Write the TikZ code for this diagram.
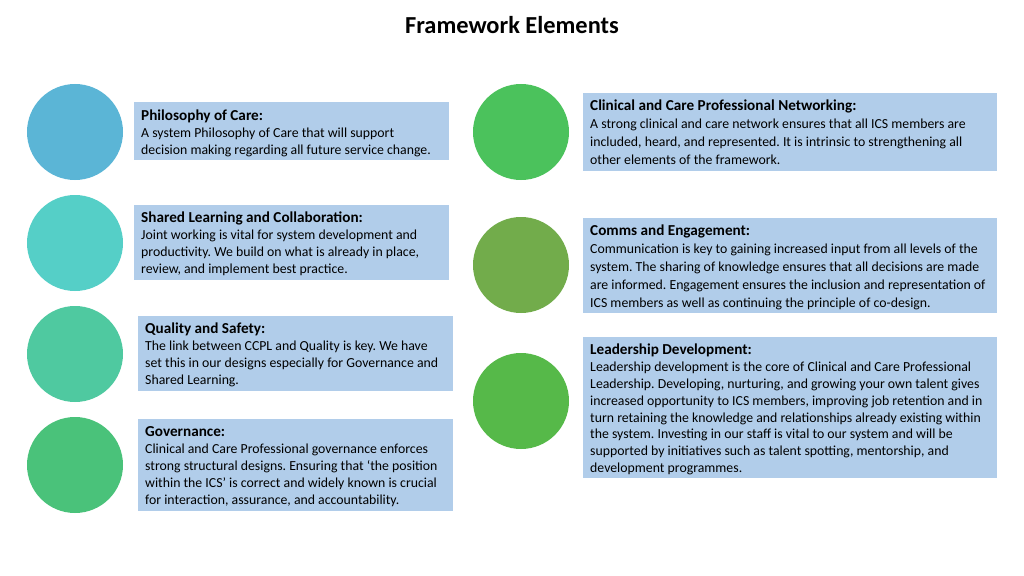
\documentclass[tikz,border=0pt]{standalone}
\usepackage{fontspec}
\setmainfont{Carlito}
\newcommand{\hd}[1]{{\fontsize{15.2}{17}\selectfont\bfseries #1}}
\begin{document}
\frenchspacing
\begin{tikzpicture}[x=1pt,y=-1pt,
 box/.style={fill=boxc,draw=none},
 circ/.style={circle,minimum size=96pt,inner sep=0pt,draw=none},
 txt/.style={anchor=north west,align=left,inner sep=0pt,font=\fontsize{13.8}{17}\selectfont}]
\definecolor{boxc}{HTML}{B1CDEA}
\useasboundingbox (0,0) rectangle (1024,575);
\node[font=\fontsize{24.4}{28}\selectfont\bfseries] (title) at (512,25) {Framework Elements};
\node[circ,fill={rgb,255:red,91;green,181;blue,214}] (c1) at (75,132) {};
\node[circ,fill={rgb,255:red,85;green,207;blue,199}] (c2) at (75,243) {};
\node[circ,fill={rgb,255:red,79;green,201;blue,160}] (c3) at (75,354) {};
\node[circ,fill={rgb,255:red,74;green,194;blue,122}] (c4) at (75,465) {};
\node[circ,fill={rgb,255:red,75;green,194;blue,92}] (c5) at (521,132) {};
\node[circ,fill={rgb,255:red,114;green,172;blue,75}] (c6) at (521,265) {};
\node[circ,fill={rgb,255:red,86;green,185;blue,73}] (c7) at (521,401) {};
\fill[box] (134,102) rectangle (449,160);
\fill[box] (134,205) rectangle (449,280);
\fill[box] (138,316) rectangle (453,391);
\fill[box] (138,419) rectangle (453,511);
\fill[box] (583,93) rectangle (997,171);
\fill[box] (583,218) rectangle (997,313);
\fill[box] (583,337) rectangle (997,478);
\node[txt] (t1) at (141,110) {\hd{Philosophy of Care:}\\A system Philosophy of Care that will support\\decision making regarding all future service change.};
\node[txt] (t2) at (141,212) {\hd{Shared Learning and Collaboration:}\\Joint working is vital for system development and\\productivity. We build on what is already in place,\\review, and implement best practice.};
\node[txt] (t3) at (145,323) {\hd{Quality and Safety:}\\The link between CCPL and Quality is key. We have\\set this in our designs especially for Governance and\\Shared Learning.};
\node[txt] (t4) at (145,426) {\hd{Governance:}\\Clinical and Care Professional governance enforces\\strong structural designs. Ensuring that ‘the position\\within the ICS’ is correct and widely known is crucial\\for interaction, assurance, and accountability.};
\node[txt,font=\fontsize{13.8}{17.8}\selectfont] (t5) at (590,100) {\hd{Clinical and Care Professional Networking:}\\A strong clinical and care network ensures that all ICS members are\\included, heard, and represented. It is intrinsic to strengthening all\\other elements of the framework.};
\node[txt,font=\fontsize{13.8}{17.8}\selectfont] (t6) at (590,225) {\hd{Comms and Engagement:}\\Communication is key to gaining increased input from all levels of the\\system. The sharing of knowledge ensures that all decisions are made\\are informed. Engagement ensures the inclusion and representation of\\ICS members as well as continuing the principle of co-design.};
\node[txt,font=\fontsize{13.8}{16.8}\selectfont] (t7) at (590,344) {\hd{Leadership Development:}\\Leadership development is the core of Clinical and Care Professional\\Leadership. Developing, nurturing, and growing your own talent gives\\increased opportunity to ICS members, improving job retention and in\\turn retaining the knowledge and relationships already existing within\\the system. Investing in our staff is vital to our system and will be\\supported by initiatives such as talent spotting, mentorship, and\\development programmes.};
\end{tikzpicture}
\end{document}
